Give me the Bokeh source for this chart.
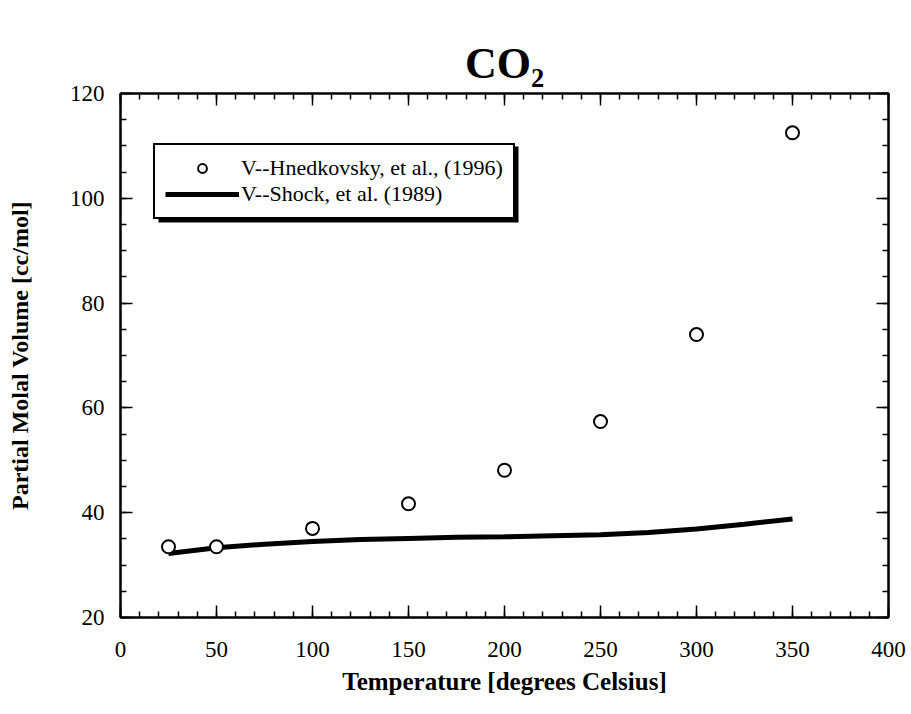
from bokeh.plotting import figure
from bokeh.models import (Range1d, LinearAxis, SingleIntervalTicker, Legend, LegendItem,
                          CustomJSTickFormatter, BoxAnnotation)
from bokeh.embed import file_html
from bokeh.resources import INLINE

# ---- data ----
temp_hnedkovsky = [25, 50, 100, 150, 200, 250, 300, 350]
vol_hnedkovsky = [33.5, 33.5, 37.0, 41.7, 48.1, 57.4, 74.0, 112.5]

temp_shock = [25, 50, 75, 100, 125, 150, 175, 200, 225, 250, 275, 300, 325, 350]
vol_shock = [32.2, 33.3, 34.0, 34.5, 34.9, 35.1, 35.3, 35.4, 35.6, 35.8, 36.2, 36.9, 37.8, 38.8]

label_hnedkovsky = "V--Hnedkovsky, et al., (1996)"
label_shock = "V--Shock, et al. (1989)"
chart_title = "CO\u2082"
x_title = "Temperature [degrees Celsius]"
y_title = "Partial Molal Volume [cc/mol]"

FONT = "Liberation Serif"

p = figure(frame_width=768, frame_height=524, title=chart_title,
           min_border_left=120, min_border_right=23, min_border_top=93, min_border_bottom=97,
           x_range=Range1d(0, 400), y_range=Range1d(20, 120),
           output_backend="svg", toolbar_location=None,
           x_axis_type=None, y_axis_type=None)
p.title.text_font = FONT
p.title.text_font_style = "bold"
p.title.text_font_size = "44px"
p.title.text_color = "black"
p.title.align = "center"
p.title.vertical_align = "middle"
p.title.offset = -4
p.xgrid.visible = False
p.ygrid.visible = False
p.outline_line_color = "black"
p.outline_line_width = 2
p.background_fill_color = "white"
p.border_fill_color = "white"

xt = SingleIntervalTicker(interval=50, num_minor_ticks=5)
yt = SingleIntervalTicker(interval=20, num_minor_ticks=4)

def style(ax, labels=True):
    ax.axis_line_color = "black"
    ax.axis_line_width = 2
    ax.major_tick_line_color = "black"
    ax.minor_tick_line_color = "black"
    ax.major_tick_line_width = 1.5
    ax.minor_tick_line_width = 1.5
    ax.major_tick_in = 12
    ax.major_tick_out = 0
    ax.minor_tick_in = 6
    ax.minor_tick_out = 0
    ax.major_label_text_font = FONT
    ax.major_label_text_font_size = "23px"
    ax.major_label_text_color = "black"
    ax.axis_label_text_font = FONT
    ax.axis_label_text_font_style = "bold"
    ax.axis_label_text_color = "black"
    if not labels:
        ax.formatter = CustomJSTickFormatter(code="return ''")
        ax.major_label_standoff = 0
        ax.major_label_text_font_size = "1px"

xb = LinearAxis(ticker=xt, axis_label=x_title)
style(xb)
xb.major_label_standoff = 24
xb.axis_label_text_font_size = "25px"
xb.axis_label_standoff = 8
p.add_layout(xb, "below")

yl = LinearAxis(ticker=yt, axis_label=y_title)
style(yl)
yl.major_label_standoff = 16
yl.axis_label_text_font_size = "24px"
yl.axis_label_standoff = 34
p.add_layout(yl, "left")

xa = LinearAxis(ticker=xt)
style(xa, labels=False)
p.add_layout(xa, "above")

yr = LinearAxis(ticker=yt)
style(yr, labels=False)
p.add_layout(yr, "right")

r_line = p.line(temp_shock, vol_shock, line_color="black", line_width=5)
r_pts = p.scatter(temp_hnedkovsky, vol_hnedkovsky, marker="circle", size=13,
                  fill_color="white", line_color="black", line_width=2)

# legend drop shadow (canvas pixels)
shadow = BoxAnnotation(left=158, right=518, top=146, bottom=222,
                       left_units="canvas", right_units="canvas",
                       top_units="canvas", bottom_units="canvas",
                       fill_color="black", fill_alpha=1, line_color=None)
p.add_layout(shadow)

legend = Legend(items=[LegendItem(label=label_hnedkovsky, renderers=[r_pts]),
                       LegendItem(label=label_shock, renderers=[r_line])],
                location=(33, 398))
legend.label_text_font = FONT
legend.label_text_font_size = "22px"
legend.label_text_color = "black"
legend.border_line_color = "black"
legend.border_line_alpha = 1
legend.border_line_width = 2
legend.background_fill_color = "white"
legend.background_fill_alpha = 1
legend.padding = 10
legend.spacing = -4
legend.margin = 0
legend.glyph_width = 74
legend.glyph_height = 22
legend.label_height = 22
legend.label_standoff = 2
p.add_layout(legend, "center")

open("out.html", "w").write(file_html(p, INLINE))
